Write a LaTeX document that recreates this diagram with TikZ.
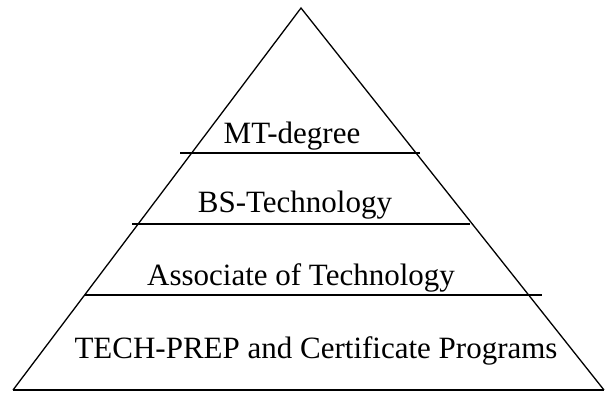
\documentclass[tikz,border=0pt]{standalone}
\usepackage{fontspec}
\setmainfont{Liberation Serif}
\begin{document}
\begin{tikzpicture}[x=1pt,y=-1pt,line width=1.3pt,
  level/.style={font=\fontsize{31}{37}\selectfont, anchor=base, inner sep=0pt}]
\useasboundingbox (0,0) rectangle (605,392);

% outer triangle
\coordinate (top) at (301,8);
\coordinate (bl) at (13,390);
\coordinate (br) at (604,390);
\draw (bl) -- (top) -- (br);
\draw (bl) -- (br);

% dividing lines
\coordinate (mtl) at (180,153);
\coordinate (mtr) at (420,153);
\coordinate (bsl) at (132,224);
\coordinate (bsr) at (470,224);
\coordinate (asl) at (85,295);
\coordinate (asr) at (542,295);
\draw (mtl) -- (mtr);
\draw (bsl) -- (bsr);
\draw (asl) -- (asr);

\node[level] (mt) at (292,143) {MT-degree};
\node[level] (bs) at (295,212) {BS-Technology};
\node[level] (as) at (301,285) {Associate of Technology};
\node[level] (tp) at (316,358) {TECH-PREP and Certificate Programs};

\end{tikzpicture}
\end{document}
